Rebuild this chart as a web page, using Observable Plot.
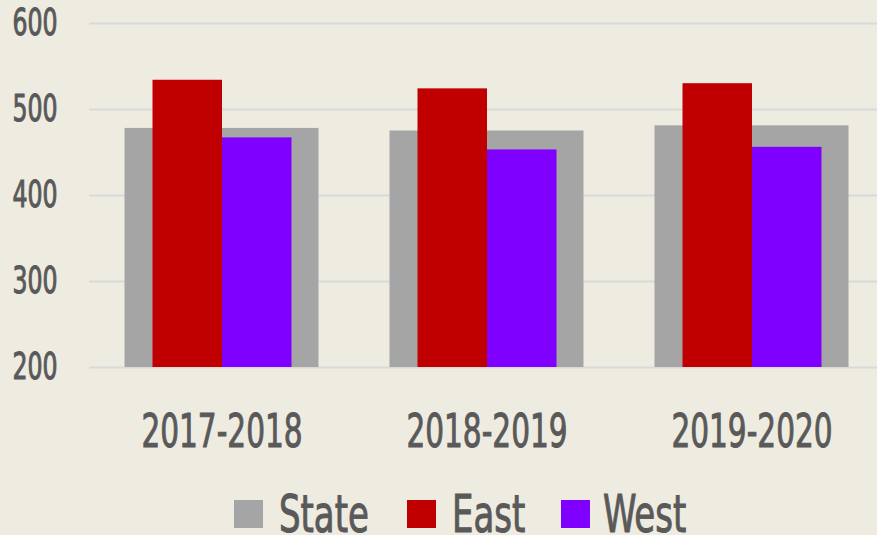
<!DOCTYPE html>
<html>
<head>
<meta charset="utf-8">
<script src="https://cdn.jsdelivr.net/npm/d3@7"></script>
<script src="https://cdn.jsdelivr.net/npm/@observablehq/plot@0.6"></script>
<style>
  html, body { margin: 0; padding: 0; background: #EEEBE0; width: 877px; height: 535px; overflow: hidden; }
  #wrap { position: relative; width: 877px; height: 535px; }
  svg { display: block; }
</style>
</head>
<body>
<div id="wrap"></div>
<script>
const categories = ["2017-2018", "2018-2019", "2019-2020"];
const series = ["State", "East", "West"];
const stateValues = [478, 475, 481];
const eastValues = [534, 524, 530];
const westValues = [467, 453, 456];
const yTicks = [200, 300, 400, 500, 600];
const colors = {State: "#A5A5A5", East: "#C00000", West: "#8000FF"};

const rows = [];
categories.forEach((c, i) => {
  rows.push({cat: c, series: "State", value: stateValues[i]});
  rows.push({cat: c, series: "East", value: eastValues[i]});
  rows.push({cat: c, series: "West", value: westValues[i]});
});
const font = '"DejaVu Sans Condensed", "DejaVu Sans", sans-serif';
const textColor = "#595959";

const plot = Plot.plot({
  width: 877,
  height: 480,
  marginTop: 23,
  marginBottom: 113,
  marginLeft: 89,
  marginRight: 0,
  style: {background: "transparent", fontFamily: font, color: textColor, overflow: "visible"},
  x: {domain: categories, range: [88.5, 883.5], padding: 0, label: null},
  y: {domain: [200, 600], label: null},
  marks: [
    Plot.ruleY(yTicks, {stroke: "#D9D9D9", strokeWidth: 2}),
    Plot.barY(rows.filter(d => d.series === "State"), {x: "cat", y1: 200, y2: "value", fill: colors.State, insetLeft: 35.5, insetRight: 35.5}),
    Plot.barY(rows.filter(d => d.series === "East"), {x: "cat", y1: 200, y2: "value", fill: colors.East, insetLeft: 63.5, insetRight: 132}),
    Plot.barY(rows.filter(d => d.series === "West"), {x: "cat", y1: 200, y2: "value", fill: colors.West, insetLeft: 133, insetRight: 62.5}),
    Plot.axisY(yTicks, {tickSize: 0, tickPadding: 32, fontSize: 37, fill: textColor, label: null}),
    Plot.axisX({tickSize: 0, tickPadding: 46, fontSize: 47, fill: textColor, label: null})
  ]
});
document.getElementById("wrap").appendChild(plot);

// condense the tick labels horizontally to mimic the narrow typeface
plot.querySelectorAll("text").forEach(t => {
  const s = t.textContent.trim();
  let sc, origin;
  if (categories.includes(s)) { sc = 0.70; origin = "center"; }
  else if (/^\d+$/.test(s)) { sc = 0.71; origin = "right center"; }
  else return;
  t.setAttribute("stroke", textColor);
  t.setAttribute("stroke-width", 1);
  const g = document.createElementNS("http://www.w3.org/2000/svg", "g");
  t.parentNode.insertBefore(g, t);
  g.appendChild(t);
  g.style.transformBox = "fill-box";
  g.style.transformOrigin = origin;
  g.style.transform = `scaleX(${sc})`;
});

// legend below the chart
const legendX = {State: [234, 279], East: [407, 452], West: [561, 603]};
const leg = d3.create("svg").attr("width", 877).attr("height", 55)
  .style("font-family", font);
series.forEach(s => {
  leg.append("rect").attr("x", legendX[s][0]).attr("y", 20).attr("width", 29).attr("height", 28).attr("fill", colors[s]);
  leg.append("text").attr("transform", `translate(${legendX[s][1]},52) scale(0.74,1)`)
    .attr("font-size", 51).attr("fill", textColor)
    .attr("stroke", textColor).attr("stroke-width", 1).text(s);
});
document.getElementById("wrap").appendChild(leg.node());
</script>
</body>
</html>
